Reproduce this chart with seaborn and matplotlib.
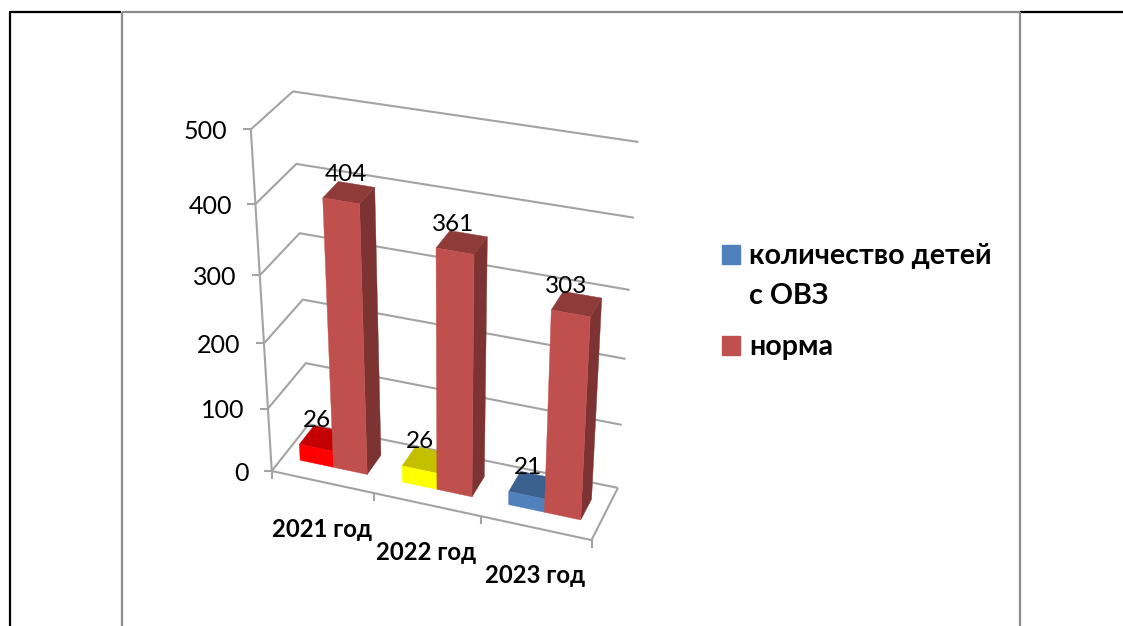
import numpy as np
import matplotlib
matplotlib.use("Agg")
import matplotlib.pyplot as plt
from matplotlib.patches import Polygon, Patch
import seaborn as sns

# ---- data ----
years = ["2021 год", "2022 год", "2023 год"]
ovz_values = [26, 26, 21]
norm_values = [404, 361, 303]
y_ticks = [0, 100, 200, 300, 400, 500]
series_names = ["количество детей\nс ОВЗ", "норма"]

sns.set_theme(style="white")
plt.rcParams["font.family"] = ["Lato", "Open Sans", "DejaVu Sans"]

GRID = "#A3A3A3"
OVZ_FACES = [("#FF0000", "#C40000", "#A00000"),
             ("#FFFF00", "#C4C000", "#A0A000"),
             ("#4F81BD", "#3A6090", "#2F4F78")]
NORM_FACES = ("#C0504D", "#8E3B39", "#7C3331")
LEGEND_COLORS = ["#4F81BD", "#C0504D"]
PX = 72 / 100  # one canvas pixel in points

# ---- perspective camera: (category, value, depth) -> canvas pixel, calibrated on the chart box ----
calib = [
    (0, 0, 0, 271.7, 470), (0, 100, 0, 268, 408), (0, 300, 0, 260, 274),
    (0, 400, 0, 256, 204), (0, 500, 0, 250.7, 130),
    (1, 0, 0, 374.3, 495), (2, 0, 0, 480.7, 517), (3, 0, 0, 591, 540),
    (0, 0, 1, 310, 425), (0, 100, 1, 305, 363), (0, 300, 1, 299.3, 233.3),
    (0, 400, 1, 296, 164), (0, 500, 1, 292.3, 91.7),
    (3, 0, 1, 617.7, 487.3), (3, 100, 1, 621.7, 424), (3, 300, 1, 630, 290),
    (3, 400, 1, 634, 217.7), (3, 500, 1, 639, 142.3),
]
rows = []
for cx, cv, cz, u, v in calib:
    X = [cx, cv / 100, cz, 1]
    rows.append(X + [0, 0, 0, 0] + [-u * c for c in X])
    rows.append([0, 0, 0, 0] + X + [-v * c for c in X])
CAM = np.linalg.svd(np.array(rows, float))[2][-1].reshape(3, 4)


def proj(x, val, z):
    h = CAM @ np.array([x, val / 100, z, 1.0])
    return h[0] / h[2], h[1] / h[2]


fig = plt.figure(figsize=(11.23, 6.26), dpi=100, facecolor="white")
ax = fig.add_axes([0, 0, 1, 1])
ax.set_xlim(0, 1123)
ax.set_ylim(626, 0)
ax.axis("off")


def seg(points, color=GRID, lw=1.5, zorder=1):
    xs, ys = zip(*points)
    ax.plot(xs, ys, color=color, lw=lw, zorder=zorder, solid_capstyle="butt")


# page-table rules
seg([(9.5, 626), (9.5, 12), (121, 12)], "black", 1.6)
seg([(1020, 12), (1123, 12)], "black", 1.6)
seg([(121.5, 12), (1019.5, 12)], "#8C8C8C", 1.6)
seg([(121.5, 12), (121.5, 626)], "#8C8C8C", 1.6)
seg([(1019.5, 12), (1019.5, 626)], "#8C8C8C", 1.6)

# walls, floor, axis
for v in y_ticks:
    seg([proj(0, v, 0), proj(0, v, 1), proj(3, v, 1)])
    x0, y0 = proj(0, v, 0)
    seg([(x0 - 8, y0), (x0, y0)])
    ax.text(x0 - 23.5, y0 + 2, str(v), ha="right", va="center",
            fontsize=18, color="black")
seg([proj(0, 0, 0), proj(0, 500, 0)])
seg([proj(0, 0, 0), proj(3, 0, 0), proj(3, 0, 1)])
for i in range(len(years) + 1):
    x0, y0 = proj(i, 0, 0)
    seg([(x0, y0), (x0, y0 + 8)])
for i, name in enumerate(years):
    x0, y0 = proj(i + 0.5, 0, 0)
    ax.text(x0 - 1, y0 + 47.5, name, ha="center", va="center",
            fontsize=17.2, fontweight="bold", color="black")

# bars
GAP, WIDTH, Z0, Z1 = 0.17, 0.33, 0.3, 0.7


def box(x0, x1, val, faces, zorder):
    front, top, side = faces
    ax.add_patch(Polygon([proj(x1, 0, Z0), proj(x1, 0, Z1), proj(x1, val, Z1), proj(x1, val, Z0)],
                         fc=side, ec=side, lw=0.3, zorder=zorder))
    ax.add_patch(Polygon([proj(x0, val, Z0), proj(x1, val, Z0), proj(x1, val, Z1), proj(x0, val, Z1)],
                         fc=top, ec=top, lw=0.3, zorder=zorder))
    ax.add_patch(Polygon([proj(x0, 0, Z0), proj(x1, 0, Z0), proj(x1, val, Z0), proj(x0, val, Z0)],
                         fc=front, ec=front, lw=0.3, zorder=zorder))


for i in range(len(years)):
    a = i + GAP
    box(a, a + WIDTH, ovz_values[i], OVZ_FACES[i], 3 + i)
    box(a + WIDTH, a + 2 * WIDTH, norm_values[i], NORM_FACES, 3.5 + i)

# data labels, nudged in canvas pixels the way the original renderer placed them
ovz_nudge = [-6, -6, -5]
norm_nudge = [-3, -9, -11]
for i in range(len(years)):
    a = i + GAP
    for x0, val, dx in ((a, ovz_values[i], ovz_nudge[i]), (a + WIDTH, norm_values[i], norm_nudge[i])):
        px, py = proj(x0 + WIDTH / 2, val, 0.5)
        ax.annotate(str(val), (px, py), xytext=(dx * PX, 12.8), textcoords="offset points",
                    ha="center", va="center", fontsize=17.5, color="black", zorder=10)

# legend
handles = [Patch(color=c) for c in LEGEND_COLORS]
leg = ax.legend(handles, series_names, loc="upper left",
                bbox_to_anchor=(722, 243), bbox_transform=ax.transData,
                frameon=False, borderpad=0, borderaxespad=0,
                handlelength=0.63, handleheight=0.63, handletextpad=0.31,
                labelspacing=0.9, prop={"size": 20.6, "weight": "bold"})
for t in leg.get_texts():
    t.set_color("black")
    t.set_linespacing(1.65)
first = leg.get_patches()[0]
first.set_y(first.get_y() + 22 * PX)

fig.savefig("out.png", dpi=100)
